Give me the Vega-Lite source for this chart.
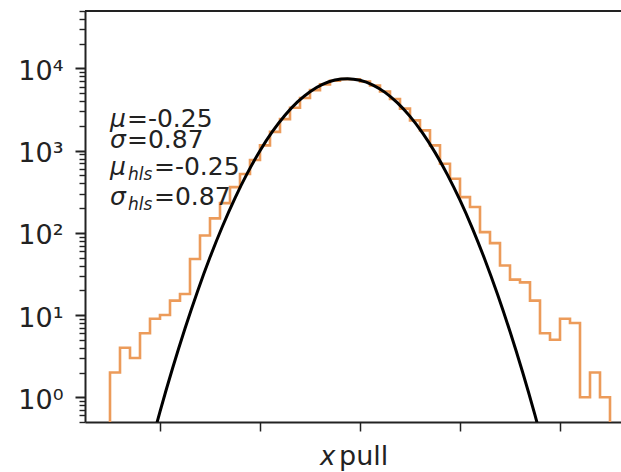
{
  "$schema": "https://vega.github.io/schema/vega-lite/v6.json",
  "width": 536,
  "height": 411,
  "autosize": {"type": "none"},
  "padding": {"left": 85, "top": 11, "right": 0, "bottom": 50},
  "background": "white",
  "config": {
    "view": {"stroke": null},
    "font": "DejaVu Sans",
    "axis": {"grid": false, "domainColor": "#222222", "domainWidth": 2, "tickColor": "#222222", "labelColor": "#222222", "labelFont": "DejaVu Sans", "labelFontSize": 27}
  },
  "datasets": {
    "hist": [
      {"i": 0, "edge": -5.0, "count": 0.1},
      {"i": 1, "edge": -5.0, "count": 2},
      {"i": 2, "edge": -4.8, "count": 4},
      {"i": 3, "edge": -4.6, "count": 3},
      {"i": 4, "edge": -4.4, "count": 6},
      {"i": 5, "edge": -4.2, "count": 9},
      {"i": 6, "edge": -4.0, "count": 10},
      {"i": 7, "edge": -3.8, "count": 15},
      {"i": 8, "edge": -3.6, "count": 18},
      {"i": 9, "edge": -3.4, "count": 48},
      {"i": 10, "edge": -3.2, "count": 93},
      {"i": 11, "edge": -3.0, "count": 150},
      {"i": 12, "edge": -2.8, "count": 230},
      {"i": 13, "edge": -2.6, "count": 360},
      {"i": 14, "edge": -2.4, "count": 520},
      {"i": 15, "edge": -2.2, "count": 770},
      {"i": 16, "edge": -2.0, "count": 1160},
      {"i": 17, "edge": -1.8, "count": 1690},
      {"i": 18, "edge": -1.6, "count": 2420},
      {"i": 19, "edge": -1.4, "count": 3330},
      {"i": 20, "edge": -1.2, "count": 4380},
      {"i": 21, "edge": -1.0, "count": 5450},
      {"i": 22, "edge": -0.8, "count": 6400},
      {"i": 23, "edge": -0.6, "count": 7080},
      {"i": 24, "edge": -0.4, "count": 7420},
      {"i": 25, "edge": -0.2, "count": 7400},
      {"i": 26, "edge": 0.0, "count": 6950},
      {"i": 27, "edge": 0.2, "count": 6200},
      {"i": 28, "edge": 0.4, "count": 5250},
      {"i": 29, "edge": 0.6, "count": 4250},
      {"i": 30, "edge": 0.8, "count": 3245},
      {"i": 31, "edge": 1.0, "count": 2337},
      {"i": 32, "edge": 1.2, "count": 1767},
      {"i": 33, "edge": 1.4, "count": 1159},
      {"i": 34, "edge": 1.6, "count": 694},
      {"i": 35, "edge": 1.8, "count": 456},
      {"i": 36, "edge": 2.0, "count": 272},
      {"i": 37, "edge": 2.2, "count": 206},
      {"i": 38, "edge": 2.4, "count": 102},
      {"i": 39, "edge": 2.6, "count": 75},
      {"i": 40, "edge": 2.8, "count": 40},
      {"i": 41, "edge": 3.0, "count": 27},
      {"i": 42, "edge": 3.2, "count": 25},
      {"i": 43, "edge": 3.4, "count": 15},
      {"i": 44, "edge": 3.6, "count": 6},
      {"i": 45, "edge": 3.8, "count": 5},
      {"i": 46, "edge": 4.0, "count": 9},
      {"i": 47, "edge": 4.2, "count": 8},
      {"i": 48, "edge": 4.4, "count": 1},
      {"i": 49, "edge": 4.6, "count": 2},
      {"i": 50, "edge": 4.8, "count": 1},
      {"i": 51, "edge": 5.0, "count": 1},
      {"i": 52, "edge": 5.0, "count": 0.1}
    ],
    "curve": [
      {"x": -4.25, "n": 0.185},
      {"x": -4.0, "n": 0.67},
      {"x": -3.75, "n": 2.235},
      {"x": -3.5, "n": 6.86},
      {"x": -3.25, "n": 19.4},
      {"x": -3.0, "n": 50.4},
      {"x": -2.75, "n": 120.4},
      {"x": -2.5, "n": 264.8},
      {"x": -2.25, "n": 536},
      {"x": -2.0, "n": 999},
      {"x": -1.75, "n": 1712},
      {"x": -1.5, "n": 2697},
      {"x": -1.25, "n": 3915},
      {"x": -1.0, "n": 5221},
      {"x": -0.75, "n": 6407},
      {"x": -0.5, "n": 7237},
      {"x": -0.25, "n": 7519},
      {"x": 0.0, "n": 7189},
      {"x": 0.25, "n": 6324},
      {"x": 0.5, "n": 5115},
      {"x": 0.75, "n": 3809},
      {"x": 1.0, "n": 2610},
      {"x": 1.25, "n": 1645},
      {"x": 1.5, "n": 953},
      {"x": 1.75, "n": 508},
      {"x": 2.0, "n": 249.6},
      {"x": 2.25, "n": 112.7},
      {"x": 2.5, "n": 46.8},
      {"x": 2.75, "n": 17.9},
      {"x": 3.0, "n": 6.3},
      {"x": 3.25, "n": 2.04},
      {"x": 3.5, "n": 0.606},
      {"x": 3.75, "n": 0.166}
    ],
    "stats": [
      {"sym": "μ", "sub": "", "val": "=-0.25", "x": -5.0, "y": 1920},
      {"sym": "σ", "sub": "", "val": "=0.87", "x": -5.0, "y": 1066},
      {"sym": "μ", "sub": "hls", "val": "=-0.25", "x": -5.0, "y": 500},
      {"sym": "σ", "sub": "hls", "val": "=0.87", "x": -5.0, "y": 216}
    ],
    "xlabel": [
      {"t": "x", "part": "var", "x": -0.8, "y": 0.5},
      {"t": "pull", "part": "word", "x": -0.42, "y": 0.5}
    ]
  },
  "layer": [
    {
      "data": {"name": "hist"},
      "mark": {"type": "line", "interpolate": "step-after", "color": "#ec9b5a", "strokeWidth": 2.6, "clip": true},
      "encoding": {
        "x": {
          "field": "edge", "type": "quantitative", "title": null,
          "scale": {"domain": [-5.5, 5.22], "nice": false, "zero": false},
          "axis": {"values": [-4, -2, 0, 2, 4], "labels": false, "tickSize": 9, "tickWidth": 1.5, "title": null}
        },
        "y": {
          "field": "count", "type": "quantitative", "title": null,
          "scale": {"type": "log", "domain": [0.5, 50000], "nice": false},
          "axis": {
            "title": null,
            "values": [0.5, 0.6, 0.7, 0.8, 0.9, 1, 2, 3, 4, 5, 6, 7, 8, 9, 10, 20, 30, 40, 50, 60, 70, 80, 90, 100, 200, 300, 400, 500, 600, 700, 800, 900, 1000, 2000, 3000, 4000, 5000, 6000, 7000, 8000, 9000, 10000, 20000, 30000, 40000, 50000],
            "labelExpr": "datum.value==1?'10⁰':datum.value==10?'10¹':datum.value==100?'10²':datum.value==1000?'10³':datum.value==10000?'10⁴':''",
            "labelOverlap": false,
            "labelBound": false,
            "labelFlush": false,
            "labelPadding": 12,
            "labelOffset": 3,
            "tickSize": {"condition": {"test": "datum.value==1||datum.value==10||datum.value==100||datum.value==1000||datum.value==10000", "value": 10}, "value": 6},
            "tickWidth": {"condition": {"test": "datum.value==1||datum.value==10||datum.value==100||datum.value==1000||datum.value==10000", "value": 2}, "value": 1.4}
          }
        },
        "order": {"field": "i"}
      }
    },
    {
      "data": {"name": "curve"},
      "mark": {"type": "line", "interpolate": "monotone", "color": "#000000", "strokeWidth": 3, "clip": true},
      "encoding": {
        "x": {"field": "x", "type": "quantitative", "title": null},
        "y": {"field": "n", "type": "quantitative", "title": null}
      }
    },
    {
      "data": {"values": [{}]},
      "mark": {"type": "rule", "color": "#222222", "strokeWidth": 2},
      "encoding": {"y": {"datum": 50000}}
    },
    {
      "data": {"name": "stats"},
      "mark": {"type": "text", "align": "left", "baseline": "alphabetic", "fontSize": 25, "fontStyle": "italic", "color": "#222222"},
      "encoding": {
        "x": {"field": "x", "type": "quantitative", "title": null},
        "y": {"field": "y", "type": "quantitative", "title": null},
        "text": {"field": "sym"}
      }
    },
    {
      "data": {"name": "stats"},
      "transform": [{"filter": "datum.sub == ''"}],
      "mark": {"type": "text", "align": "left", "baseline": "alphabetic", "fontSize": 25, "dx": 17, "color": "#222222"},
      "encoding": {
        "x": {"field": "x", "type": "quantitative", "title": null},
        "y": {"field": "y", "type": "quantitative", "title": null},
        "text": {"field": "val"}
      }
    },
    {
      "data": {"name": "stats"},
      "transform": [{"filter": "datum.sub != ''"}],
      "mark": {"type": "text", "align": "left", "baseline": "alphabetic", "fontSize": 17, "fontStyle": "italic", "dx": 18, "dy": 5, "color": "#222222"},
      "encoding": {
        "x": {"field": "x", "type": "quantitative", "title": null},
        "y": {"field": "y", "type": "quantitative", "title": null},
        "text": {"field": "sub"}
      }
    },
    {
      "data": {"name": "stats"},
      "transform": [{"filter": "datum.sub != ''"}],
      "mark": {"type": "text", "align": "left", "baseline": "alphabetic", "fontSize": 25, "dx": 44, "color": "#222222"},
      "encoding": {
        "x": {"field": "x", "type": "quantitative", "title": null},
        "y": {"field": "y", "type": "quantitative", "title": null},
        "text": {"field": "val"}
      }
    },
    {
      "data": {"name": "xlabel"},
      "transform": [{"filter": "datum.part == 'var'"}],
      "mark": {"type": "text", "align": "left", "baseline": "alphabetic", "fontSize": 26, "fontStyle": "italic", "dy": 43, "color": "#222222"},
      "encoding": {
        "x": {"field": "x", "type": "quantitative", "title": null},
        "y": {"field": "y", "type": "quantitative", "title": null},
        "text": {"field": "t"}
      }
    },
    {
      "data": {"name": "xlabel"},
      "transform": [{"filter": "datum.part == 'word'"}],
      "mark": {"type": "text", "align": "left", "baseline": "alphabetic", "fontSize": 27, "dy": 43, "color": "#222222"},
      "encoding": {
        "x": {"field": "x", "type": "quantitative", "title": null},
        "y": {"field": "y", "type": "quantitative", "title": null},
        "text": {"field": "t"}
      }
    }
  ]
}
